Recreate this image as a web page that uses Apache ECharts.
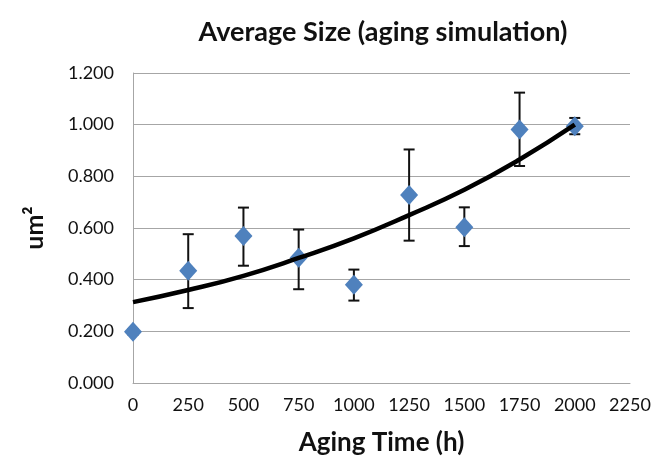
<!DOCTYPE html>
<html>
<head>
<meta charset="utf-8">
<script src="https://cdn.jsdelivr.net/npm/echarts@6/dist/echarts.min.js"></script>
<style>
    html,body{margin:0;padding:0;background:#fff;}
    #chart{width:662px;height:463px;}
</style>
</head>
<body>
<div id="chart"></div>
<script>
// data
var hours = [0, 250, 500, 750, 1000, 1250, 1500, 1750, 2000];
var avgSize = [0.198, 0.435, 0.569, 0.485, 0.380, 0.728, 0.603, 0.981, 0.994];
var errLow = [0.188, 0.290, 0.454, 0.363, 0.319, 0.551, 0.530, 0.840, 0.963];
var errHigh = [0.208, 0.576, 0.679, 0.594, 0.439, 0.904, 0.680, 1.124, 1.026];
// exponential trend line, read at each step
var trendVals = [0.313, 0.360, 0.415, 0.484, 0.560, 0.650, 0.748, 0.865, 1.000];

var font = 'Lato';

var pts = [], bars = [], trend = [];
for (var i = 0; i < hours.length; i++) {
    pts.push([hours[i], avgSize[i]]);
    bars.push([hours[i], errLow[i], errHigh[i]]);
    trend.push([hours[i], trendVals[i]]);
}

var chart = echarts.init(document.getElementById('chart'), null, {renderer: 'canvas'});

var option = {
    animation: false,
    backgroundColor: '#fff',
    title: {
        text: 'Average Size (aging simulation)',
        left: 378,
        textAlign: 'center',
        top: 14,
        textStyle: {fontFamily: font, fontWeight: 'bold', fontSize: 27, color: '#111'}
    },
    grid: {left: 133, right: 32, top: 73, bottom: 80},
    xAxis: {
        type: 'value',
        min: 0, max: 2250, interval: 250,
        name: 'Aging Time (h)',
        nameLocation: 'middle',
        nameGap: 47,
        nameTextStyle: {fontFamily: font, fontWeight: 'bold', fontSize: 26, color: '#111'},
        axisLine: {show: true, lineStyle: {color: '#a6a6a6', width: 1}},
        axisTick: {show: false},
        axisLabel: {
            fontFamily: font, fontSize: 18, color: '#111', margin: 13,
            formatter: function (v) { return String(v); }
        },
        splitLine: {show: false}
    },
    yAxis: {
        type: 'value',
        min: 0, max: 1.2, interval: 0.2,
        name: 'um²',
        nameLocation: 'middle',
        nameRotate: 90,
        nameGap: 86,
        nameTextStyle: {fontFamily: font, fontWeight: 'bold', fontSize: 25, color: '#111'},
        axisLine: {show: true, lineStyle: {color: '#a6a6a6', width: 1}},
        axisTick: {show: false},
        axisLabel: {
            fontFamily: font, fontSize: 18, color: '#111', margin: 19,
            formatter: function (v) { return v.toFixed(3); }
        },
        splitLine: {show: true, lineStyle: {color: '#a6a6a6', width: 1}}
    },
    series: [
        {
            name: 'error',
            type: 'custom',
            z: 2,
            data: bars,
            renderItem: function (params, api) {
                var x = api.value(0);
                var lo = api.coord([x, api.value(1)]);
                var hi = api.coord([x, api.value(2)]);
                var half = 5.5;
                var st = {stroke: '#111', lineWidth: 2};
                return {
                    type: 'group',
                    children: [
                        {type: 'line', shape: {x1: hi[0], y1: hi[1], x2: lo[0], y2: lo[1]}, style: st},
                        {type: 'line', shape: {x1: hi[0] - half, y1: hi[1], x2: hi[0] + half, y2: hi[1]}, style: st},
                        {type: 'line', shape: {x1: lo[0] - half, y1: lo[1], x2: lo[0] + half, y2: lo[1]}, style: st}
                    ]
                };
            }
        },
        {
            name: 'Average Size',
            type: 'scatter',
            z: 3,
            symbol: 'diamond',
            symbolSize: [18, 20],
            itemStyle: {color: '#4f81bd', opacity: 1},
            data: pts
        },
        {
            name: 'Trend',
            type: 'line',
            z: 4,
            smooth: true,
            showSymbol: false,
            lineStyle: {color: '#000', width: 4.5},
            data: trend
        }
    ]
};

chart.setOption(option);
</script>
</body>
</html>
